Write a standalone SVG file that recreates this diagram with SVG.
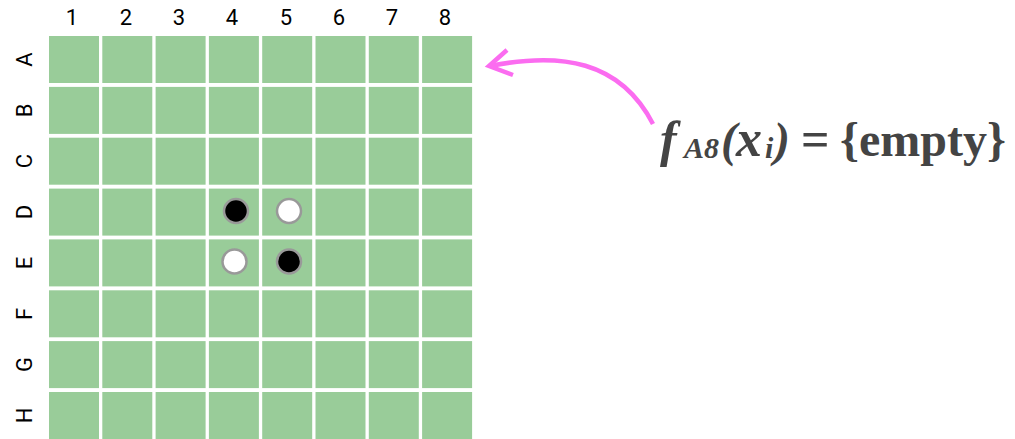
<svg xmlns="http://www.w3.org/2000/svg" width="1015" height="439" viewBox="0 0 1015 439">
<style>
.cell{fill:#99cc99}
.lbl{font-family:Roboto,"Liberation Sans",sans-serif;font-size:22px;fill:#000;text-anchor:middle}
.disc{stroke:#999;stroke-width:2.5}
.formula{font-family:"Liberation Serif","Times New Roman",serif;fill:#444;font-weight:bold}
.it{font-style:italic}
</style>
<rect width="1015" height="439" fill="#fff"/>
<g id="board">
<g id="grid">
<rect class="cell" x="49" y="36" width="50" height="47"/><rect class="cell" x="102.3" y="36" width="50" height="47"/><rect class="cell" x="155.6" y="36" width="50" height="47"/><rect class="cell" x="208.9" y="36" width="50" height="47"/><rect class="cell" x="262.2" y="36" width="50" height="47"/><rect class="cell" x="315.5" y="36" width="50" height="47"/><rect class="cell" x="368.8" y="36" width="50" height="47"/><rect class="cell" x="422.1" y="36" width="50" height="47"/>
<rect class="cell" x="49" y="86.9" width="50" height="47"/><rect class="cell" x="102.3" y="86.9" width="50" height="47"/><rect class="cell" x="155.6" y="86.9" width="50" height="47"/><rect class="cell" x="208.9" y="86.9" width="50" height="47"/><rect class="cell" x="262.2" y="86.9" width="50" height="47"/><rect class="cell" x="315.5" y="86.9" width="50" height="47"/><rect class="cell" x="368.8" y="86.9" width="50" height="47"/><rect class="cell" x="422.1" y="86.9" width="50" height="47"/>
<rect class="cell" x="49" y="137.7" width="50" height="47"/><rect class="cell" x="102.3" y="137.7" width="50" height="47"/><rect class="cell" x="155.6" y="137.7" width="50" height="47"/><rect class="cell" x="208.9" y="137.7" width="50" height="47"/><rect class="cell" x="262.2" y="137.7" width="50" height="47"/><rect class="cell" x="315.5" y="137.7" width="50" height="47"/><rect class="cell" x="368.8" y="137.7" width="50" height="47"/><rect class="cell" x="422.1" y="137.7" width="50" height="47"/>
<rect class="cell" x="49" y="188.6" width="50" height="47"/><rect class="cell" x="102.3" y="188.6" width="50" height="47"/><rect class="cell" x="155.6" y="188.6" width="50" height="47"/><rect class="cell" x="208.9" y="188.6" width="50" height="47"/><rect class="cell" x="262.2" y="188.6" width="50" height="47"/><rect class="cell" x="315.5" y="188.6" width="50" height="47"/><rect class="cell" x="368.8" y="188.6" width="50" height="47"/><rect class="cell" x="422.1" y="188.6" width="50" height="47"/>
<rect class="cell" x="49" y="239.4" width="50" height="47"/><rect class="cell" x="102.3" y="239.4" width="50" height="47"/><rect class="cell" x="155.6" y="239.4" width="50" height="47"/><rect class="cell" x="208.9" y="239.4" width="50" height="47"/><rect class="cell" x="262.2" y="239.4" width="50" height="47"/><rect class="cell" x="315.5" y="239.4" width="50" height="47"/><rect class="cell" x="368.8" y="239.4" width="50" height="47"/><rect class="cell" x="422.1" y="239.4" width="50" height="47"/>
<rect class="cell" x="49" y="290.3" width="50" height="47"/><rect class="cell" x="102.3" y="290.3" width="50" height="47"/><rect class="cell" x="155.6" y="290.3" width="50" height="47"/><rect class="cell" x="208.9" y="290.3" width="50" height="47"/><rect class="cell" x="262.2" y="290.3" width="50" height="47"/><rect class="cell" x="315.5" y="290.3" width="50" height="47"/><rect class="cell" x="368.8" y="290.3" width="50" height="47"/><rect class="cell" x="422.1" y="290.3" width="50" height="47"/>
<rect class="cell" x="49" y="341.1" width="50" height="47"/><rect class="cell" x="102.3" y="341.1" width="50" height="47"/><rect class="cell" x="155.6" y="341.1" width="50" height="47"/><rect class="cell" x="208.9" y="341.1" width="50" height="47"/><rect class="cell" x="262.2" y="341.1" width="50" height="47"/><rect class="cell" x="315.5" y="341.1" width="50" height="47"/><rect class="cell" x="368.8" y="341.1" width="50" height="47"/><rect class="cell" x="422.1" y="341.1" width="50" height="47"/>
<rect class="cell" x="49" y="392" width="50" height="47"/><rect class="cell" x="102.3" y="392" width="50" height="47"/><rect class="cell" x="155.6" y="392" width="50" height="47"/><rect class="cell" x="208.9" y="392" width="50" height="47"/><rect class="cell" x="262.2" y="392" width="50" height="47"/><rect class="cell" x="315.5" y="392" width="50" height="47"/><rect class="cell" x="368.8" y="392" width="50" height="47"/><rect class="cell" x="422.1" y="392" width="50" height="47"/>
</g>
<g id="col-labels">
<text class="lbl" x="72" y="25">1</text><text class="lbl" x="126" y="25">2</text><text class="lbl" x="179" y="25">3</text><text class="lbl" x="232" y="25">4</text><text class="lbl" x="286" y="25">5</text><text class="lbl" x="339" y="25">6</text><text class="lbl" x="392" y="25">7</text><text class="lbl" x="445" y="25">8</text>
</g>
<g id="row-labels">
<text class="lbl" transform="translate(32 59.5) rotate(-90)">A</text>
<text class="lbl" transform="translate(32 110.4) rotate(-90)">B</text>
<text class="lbl" transform="translate(32 161.2) rotate(-90)">C</text>
<text class="lbl" transform="translate(32 212.1) rotate(-90)">D</text>
<text class="lbl" transform="translate(32 262.9) rotate(-90)">E</text>
<text class="lbl" transform="translate(32 313.8) rotate(-90)">F</text>
<text class="lbl" transform="translate(32 364.6) rotate(-90)">G</text>
<text class="lbl" transform="translate(32 415.5) rotate(-90)">H</text>
</g>
<g id="pieces">
<circle id="D4" class="disc" cx="236" cy="211" r="12" fill="#000"/>
<circle id="D5" class="disc" cx="289" cy="211" r="12" fill="#fff"/>
<circle id="E4" class="disc" cx="234.5" cy="261.5" r="12" fill="#fff"/>
<circle id="E5" class="disc" cx="289" cy="261.5" r="12" fill="#000"/>
</g>
</g>
<g id="connectors" fill="none" stroke="#fb6cf0" stroke-width="4.5" stroke-linecap="butt" stroke-linejoin="miter">
<path d="M653 124 C620 60 560 52 490 66"/>
<path d="M507 50 L489 66 L513 75"/>
</g>
<g id="formula">
<text class="formula" y="156"><tspan class="it" x="660" font-size="50">f</tspan><tspan class="it" x="684" y="158" font-size="30">A8</tspan><tspan class="it" x="721" y="156" font-size="48">(</tspan><tspan class="it" x="736" font-size="52">x</tspan><tspan class="it" x="765" y="158" font-size="30">i</tspan><tspan class="it" x="774" y="156" font-size="48">)</tspan><tspan x="801" font-size="50">=</tspan><tspan x="840" font-size="48">{empty}</tspan></text>
</g>
</svg>
